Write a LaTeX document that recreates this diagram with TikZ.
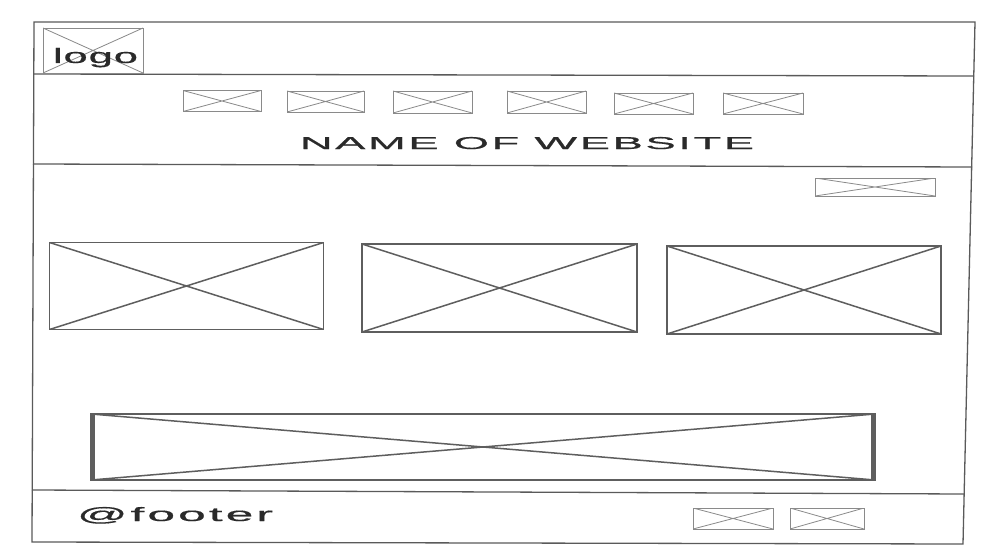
\documentclass[tikz,border=0pt]{standalone}
\usepackage{fontspec}
\usepackage{graphicx}
\setmainfont{Liberation Sans}
\newfontfamily\spacedA[LetterSpace=6,FakeBold=0.6]{Liberation Sans}
\newfontfamily\spacedB[LetterSpace=6,FakeBold=0.5]{Liberation Sans}
\newfontfamily\spacedC[LetterSpace=2,FakeBold=0.4]{Liberation Sans}
\definecolor{frameC}{HTML}{5A5A5A}
\definecolor{smallC}{HTML}{8A8A8A}
\definecolor{bigC}{HTML}{5E5E5E}
\definecolor{textC}{HTML}{2A2A2A}
\tikzset{
  imgbox/.style={draw=smallC, line width=0.9pt, inner sep=0pt, outer sep=0pt,
    path picture={\draw[smallC, line width=0.8pt]
      (path picture bounding box.north west) -- (path picture bounding box.south east)
      (path picture bounding box.south west) -- (path picture bounding box.north east);}},
  bigbox/.style={draw=bigC, line width=1.8pt, inner sep=0pt, outer sep=0pt,
    path picture={\draw[bigC, line width=1.5pt]
      (path picture bounding box.north west) -- (path picture bounding box.south east)
      (path picture bounding box.south west) -- (path picture bounding box.north east);}},
  frameline/.style={draw=frameC, line width=1.3pt},
  label/.style={text=textC, inner sep=0pt, outer sep=0pt, anchor=base west},
}
\begin{document}
\begin{tikzpicture}[x=1pt,y=-1pt]
\useasboundingbox[fill=white] (0,0) rectangle (991,551);
% outer frame
\coordinate (tl) at (34,22);
\coordinate (tr) at (975,22);
\coordinate (br) at (963,544);
\coordinate (bl) at (32,542);
\draw[frameline] (tl) -- (tr) -- (br) -- (bl) -- cycle;
% separators
\coordinate (h1l) at (33.5,74);
\coordinate (h1r) at (974,76);
\coordinate (h2l) at (33,164);
\coordinate (h2r) at (972,167);
\coordinate (h3l) at (32,490);
\coordinate (h3r) at (964,494);
\draw[frameline] (h1l) -- (h1r);
\draw[frameline] (h2l) -- (h2r);
\draw[frameline] (h3l) -- (h3r);
% logo
\node[imgbox, minimum width=100pt, minimum height=45pt] (logo) at (93,50.5) {};
\node[label] (logotxt) at (53,63) {\resizebox{85pt}{15pt}{\spacedC logo}};
% nav boxes
\node[imgbox, minimum width=78pt, minimum height=21pt] (n1) at (222,101) {};
\node[imgbox, minimum width=77pt, minimum height=21pt] (n2) at (325.5,101.5) {};
\node[imgbox, minimum width=79pt, minimum height=22pt] (n3) at (432.5,102) {};
\node[imgbox, minimum width=79pt, minimum height=22pt] (n4) at (546.5,102) {};
\node[imgbox, minimum width=79pt, minimum height=21pt] (n5) at (653.5,103.5) {};
\node[imgbox, minimum width=80pt, minimum height=21pt] (n6) at (763,103.5) {};
% title
\node[label] (title) at (300,149) {\resizebox{454pt}{12pt}{\spacedA NAME OF WEBSITE}};
% top right small box
\node[imgbox, minimum width=120pt, minimum height=18pt] (tiny) at (875,187) {};
% three big boxes
\node[bigbox, minimum width=274pt, minimum height=87pt] (b1) at (186.5,286) {};
\node[bigbox, minimum width=275pt, minimum height=88pt] (b2) at (499.5,288) {};
\node[bigbox, minimum width=274pt, minimum height=88pt] (b3) at (804,290) {};
% wide box
\node[bigbox, minimum width=784pt, minimum height=66pt] (wide) at (483,447) {};
\draw[bigC, line width=4pt] ([xshift=2pt]wide.north west) -- ([xshift=2pt]wide.south west);
\draw[bigC, line width=4pt] ([xshift=-2pt]wide.north east) -- ([xshift=-2pt]wide.south east);
% footer
\node[label] (foot) at (77,521) {\resizebox{196pt}{14pt}{\spacedB @footer}};
\node[imgbox, minimum width=80pt, minimum height=21pt] (f1) at (733,518.5) {};
\node[imgbox, minimum width=74pt, minimum height=21pt] (f2) at (827,518.5) {};
\end{tikzpicture}
\end{document}
